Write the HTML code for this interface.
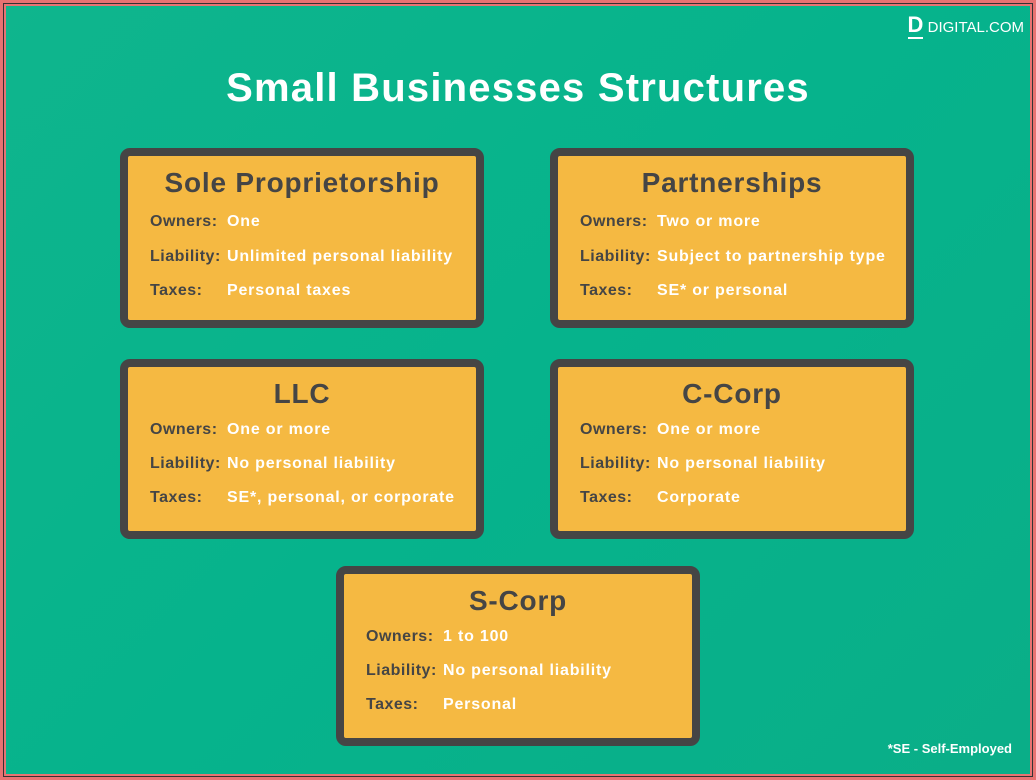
<!DOCTYPE html>
<html><head><meta charset="utf-8"><style>
*{margin:0;padding:0;box-sizing:border-box}
body{width:1036px;height:780px;overflow:hidden;font-family:"Liberation Sans","DejaVu Sans",sans-serif;background:#e87272;position:relative}
.frame{position:absolute;left:3px;top:3px;width:1030px;height:774px;border:1px solid #333;background:#e87272}
.bg{position:absolute;left:6px;top:6px;width:1024px;height:768px;background:linear-gradient(135deg,#0fb58d 0%,#06b38c 50%,#0aae88 100%);overflow:hidden}
.title{position:absolute;left:0;width:1036px;top:66px;text-align:center;color:#fff;font-size:40px;font-weight:bold;letter-spacing:1.2px}
.box{position:absolute;width:364px;height:180px;background:#f5b942;border:8px solid #454545;border-radius:10px}
.box h2{position:absolute;left:0;right:0;top:11px;text-align:center;color:#454545;font-size:28px;font-weight:bold;letter-spacing:.8px}
.row{position:absolute;left:22px;font-size:16px;font-weight:bold;letter-spacing:.8px;white-space:nowrap}
.row b{color:#454545;display:inline-block;width:77px;letter-spacing:.5px}
.row span{color:#fff}
.logo{position:absolute;right:12px;top:12px;color:#fff;font-size:15px}
.note{position:absolute;right:24px;bottom:24px;color:#fff;font-size:13px;font-weight:bold}
</style></head><body>
<div class="frame"></div>
<div class="bg"></div>
<div class="logo"><span style="font-weight:bold;font-size:22px;border-bottom:2px solid #fff">D</span> DIGITAL.COM</div>
<div class="title">Small Businesses Structures</div>

<div class="box" style="left:120px;top:148px"><h2>Sole Proprietorship</h2>
<div class="row" style="top:57px"><b>Owners:</b><span>One</span></div>
<div class="row" style="top:92px"><b>Liability:</b><span>Unlimited personal liability</span></div>
<div class="row" style="top:126px"><b>Taxes:</b><span>Personal taxes</span></div></div>

<div class="box" style="left:550px;top:148px"><h2>Partnerships</h2>
<div class="row" style="top:57px"><b>Owners:</b><span>Two or more</span></div>
<div class="row" style="top:92px"><b>Liability:</b><span>Subject to partnership type</span></div>
<div class="row" style="top:126px"><b>Taxes:</b><span>SE* or personal</span></div></div>

<div class="box" style="left:120px;top:359px"><h2>LLC</h2>
<div class="row" style="top:54px"><b>Owners:</b><span>One or more</span></div>
<div class="row" style="top:88px"><b>Liability:</b><span>No personal liability</span></div>
<div class="row" style="top:122px"><b>Taxes:</b><span>SE*, personal, or corporate</span></div></div>

<div class="box" style="left:550px;top:359px"><h2>C-Corp</h2>
<div class="row" style="top:54px"><b>Owners:</b><span>One or more</span></div>
<div class="row" style="top:88px"><b>Liability:</b><span>No personal liability</span></div>
<div class="row" style="top:122px"><b>Taxes:</b><span>Corporate</span></div></div>

<div class="box" style="left:336px;top:566px"><h2>S-Corp</h2>
<div class="row" style="top:54px"><b>Owners:</b><span>1 to 100</span></div>
<div class="row" style="top:88px"><b>Liability:</b><span>No personal liability</span></div>
<div class="row" style="top:122px"><b>Taxes:</b><span>Personal</span></div></div>

<div class="note">*SE - Self-Employed</div>
</body></html>
